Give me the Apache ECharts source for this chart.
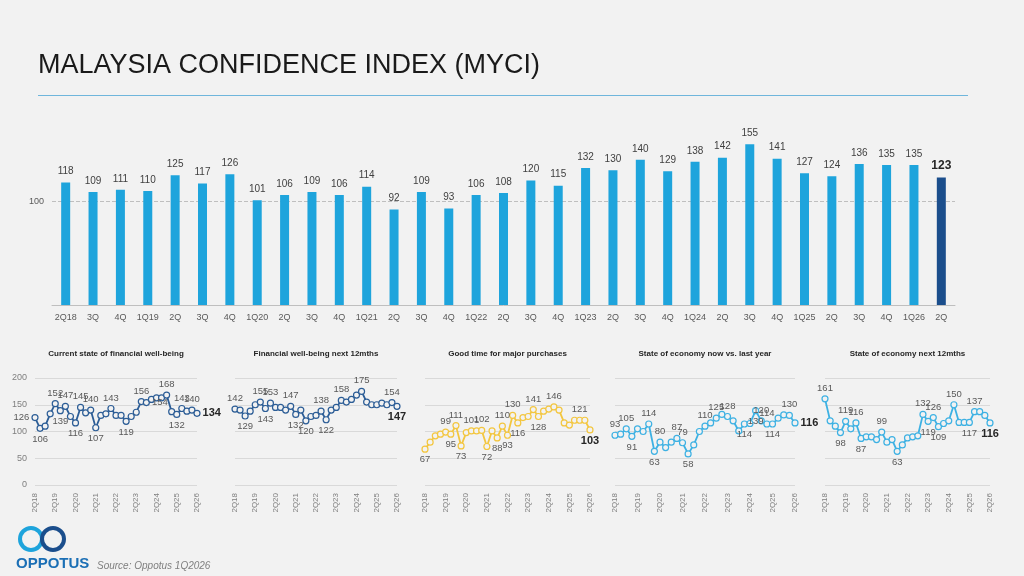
<!DOCTYPE html>
<html><head><meta charset="utf-8">
<script src="https://cdn.jsdelivr.net/npm/echarts@6/dist/echarts.min.js"></script>
<style>body{margin:0;background:#f2f2f2}#main{width:1024px;height:576px}</style>
</head><body><div id="main"></div>
<script>
// 主柱状图数据
var barCats=['2Q18','3Q','4Q','1Q19','2Q','3Q','4Q','1Q20','2Q','3Q','4Q','1Q21','2Q','3Q','4Q','1Q22','2Q','3Q','4Q','1Q23','2Q','3Q','4Q','1Q24','2Q','3Q','4Q','1Q25','2Q','3Q','4Q','1Q26','2Q'];
var barVals=[118,109,111,110,125,117,126,101,106,109,106,114,92,109,93,106,108,120,115,132,130,140,129,138,142,155,141,127,124,136,135,135,123];
// 小图 x 轴
var qCats=[];
var qy=18,qq=2;
for(var i=0;i<33;i++){qCats.push(qq+'Q'+qy);qq++;if(qq>4){qq=1;qy++;}}
var titles=['Current state of financial well-being','Financial well-being next 12mths','Good time for major purchases','State of economy now vs. last year','State of economy next 12mths'];
var s1=[126,106,110,133,152,139,147,128,116,145,135,140,107,130,133,143,130,130,119,128,136,156,154,160,163,163,168,137,132,143,138,140,134];
var s2=[142,140,129,138,150,155,143,153,145,145,140,147,132,140,120,128,130,138,122,140,145,158,155,160,168,175,155,150,150,153,150,154,147];
var s3=[67,80,92,95,99,95,111,73,98,101,101,102,72,101,88,110,93,130,116,126,128,141,128,138,142,146,140,116,112,121,121,121,103];
var s4=[93,95,105,91,105,100,114,63,80,70,80,87,79,58,75,100,110,116,125,132,128,120,101,114,115,139,120,114,114,125,131,130,116];
var s5=[161,120,110,98,119,105,116,87,90,90,85,99,80,85,63,75,88,90,92,132,119,126,109,115,120,150,117,117,117,137,137,130,116];
// 要标注的点: 下标 -> 位置
var lab1={0:'left',1:'bottom',4:'top',5:'bottom',6:'top',8:'bottom',9:'top',11:'top',12:'bottom',15:'top',18:'bottom',21:'top',22:'right',26:'top',28:'bottom',29:'top',31:'top',32:'right'};
var lab2={0:'top',2:'bottom',5:'top',6:'bottom',7:'top',11:'top',12:'bottom',14:'bottom',17:'top',18:'bottom',21:'top',25:'top',31:'top',32:'bottom'};
var lab3={0:'bottom',4:'top',5:'bottom',6:'top',7:'bottom',9:'top',11:'top',12:'bottom',14:'bottom',15:'top',16:'bottom',17:'top',18:'bottom',21:'top',22:'bottom',25:'top',30:'top',32:'bottom'};
var lab4={0:'top',2:'top',3:'bottom',6:'top',7:'bottom',8:'top',11:'top',12:'top',13:'bottom',16:'top',18:'top',20:'top',23:'bottom',25:'bottom',26:'top',27:'top',28:'bottom',31:'top',32:'right'};
var lab5={0:'top',3:'bottom',4:'top',6:'top',7:'bottom',11:'top',14:'bottom',19:'top',20:'bottom',21:'top',22:'bottom',25:'top',28:'bottom',29:'top',32:'bottom'};
var series5=[s1,s2,s3,s4,s5];
var labs=[lab1,lab2,lab3,lab4,lab5];
var colors=['#2c5d96','#2c5d96','#f3c63f','#3db1e3','#3db1e3'];
var gx=[[35,197],[235,397],[425,590],[615,795],[825,990]];

var grids=[{left:52,top:139,width:903,height:166}];
var xAxes=[{gridIndex:0,type:'category',data:barCats,axisTick:{show:false},
  axisLine:{lineStyle:{color:'#bfbfbf'}},axisLabel:{color:'#595959',fontSize:9,interval:0,fontFamily:'Liberation Sans'}}];
var yAxes=[{gridIndex:0,type:'value',min:0,max:160,interval:100,
  axisLabel:{color:'#595959',fontSize:9,formatter:function(v){return v==100?'100':'';}},
  splitLine:{show:false}}];
var series=[{type:'bar',xAxisIndex:0,yAxisIndex:0,barWidth:9,
  data:barVals.map(function(v,i){
    var last=i==barVals.length-1;
    return {value:v,itemStyle:{color:last?'#1b4e8c':'#1ea4dc'},
      label:{fontWeight:last?'bold':'normal',color:last?'#262626':'#404040',fontSize:last?12:10}};
  }),
  label:{show:true,position:'top',distance:6,fontFamily:'Liberation Sans'},
  markLine:{silent:true,symbol:'none',label:{show:false},z:1,
    lineStyle:{color:'#bfbfbf',type:'dashed',width:1},data:[{yAxis:100}]}}];
for(var k=0;k<5;k++){
  grids.push({left:gx[k][0],width:gx[k][1]-gx[k][0],top:378,height:107});
  xAxes.push({gridIndex:k+1,type:'category',boundaryGap:false,data:qCats,
    axisLine:{show:false},axisTick:{show:false},
    axisLabel:{rotate:90,interval:3,color:'#7f7f7f',fontSize:8,fontFamily:'Liberation Sans'}});
  yAxes.push({gridIndex:k+1,type:'value',min:0,max:200,interval:50,
    axisLabel:{show:k==0,color:'#7f7f7f',fontSize:9},
    splitLine:{lineStyle:{color:'#d9d9d9'}}});
  var lb=labs[k];
  series.push({type:'line',xAxisIndex:k+1,yAxisIndex:k+1,
    symbol:'circle',symbolSize:6,showAllSymbol:true,
    labelLayout:{hideOverlap:false},
    lineStyle:{color:colors[k],width:1.8},
    itemStyle:{color:'#f2f2f2',borderColor:colors[k],borderWidth:1.2},
    data:series5[k].map(function(v,i){
      var p=lb[i];
      var last=i==32;
      return {value:v,label:{show:!!p,position:p||'top',distance:2,
        color:last?'#262626':'#595959',fontWeight:last?'bold':'normal',fontSize:last?11:9.5}};
    }),
    label:{fontFamily:'Liberation Sans'}});
}
var chart=echarts.init(document.getElementById('main'));
chart.setOption({
  backgroundColor:'#f2f2f2',
  animation:false,
  grid:grids,xAxis:xAxes,yAxis:yAxes,series:series,
  graphic:[
    {type:'text',left:38,top:52,style:{text:'MALAYSIA CONFIDENCE INDEX (MYCI)',fill:'#1a1a1a',font:'27px Liberation Sans'}},
    {type:'rect',shape:{x:38,y:95,width:930,height:1},style:{fill:'#6fb6dc'}},
    {type:'circle',shape:{cx:31,cy:539,r:11},style:{fill:'none',stroke:'#1ea4dc',lineWidth:4}},
    {type:'circle',shape:{cx:53,cy:539,r:11},style:{fill:'none',stroke:'#1b4e8c',lineWidth:4}},
    {type:'text',left:16,top:556,style:{text:'OPPOTUS',fill:'#1b6fb5',font:'bold 15px Liberation Sans'}},
    {type:'text',left:97,top:561,style:{text:'Source: Oppotus 1Q2026',fill:'#7f7f7f',font:'italic 10px Liberation Sans'}}
  ].concat(titles.map(function(t,k){
    return {type:'text',x:(gx[k][0]+gx[k][1])/2,y:350,
      style:{text:t,fill:'#262626',font:'bold 8px Liberation Sans',align:'center'}};
  }))
});
</script></body></html>
